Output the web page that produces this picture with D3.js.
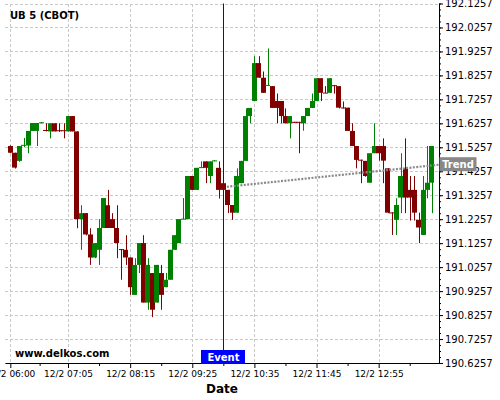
<!DOCTYPE html>
<html>
<head>
<meta charset="utf-8">
<script src="https://cdnjs.cloudflare.com/ajax/libs/d3/7.8.5/d3.min.js"></script>
<style>
body { margin: 0; background: #fff; }
text { font-family: "DejaVu Sans", sans-serif; }
</style>
</head>
<body>
<div id="chart"></div>
<script>
var width = 500;
var height = 400;
var plotLeft = 5, plotRight = 439, plotTop = 3.5, plotBottom = 363;
var upColor = '#008000';
var downColor = '#800000';
var gridColor = '#c8c8c8';

// 5 minute bars, 12/2
var times = [
  '06:00','06:05','06:10','06:15','06:20','06:25','06:30','06:35','06:40','06:45','06:50','06:55',
  '07:00','07:05','07:10','07:15','07:20','07:25','07:30','07:35','07:40','07:45','07:50','07:55',
  '08:00','08:05','08:10','08:15','08:20','08:25','08:30','08:35','08:40','08:45','08:50','08:55',
  '09:00','09:05','09:10','09:15','09:20','09:25','09:30','09:35','09:40','09:45','09:50','09:55',
  '10:00','10:05','10:10','10:15','10:20','10:25','10:30','10:35','10:40','10:45','10:50','10:55',
  '11:00','11:05','11:10','11:15','11:20','11:25','11:30','11:35','11:40','11:45','11:50','11:55',
  '12:00','12:05','12:10','12:15','12:20','12:25','12:30','12:35','12:40','12:45','12:50','12:55',
  '13:00','13:05','13:10','13:15','13:20','13:25','13:30','13:35','13:40','13:45','13:50','13:55'
];
var opens = [
  191.531,191.503,191.469,191.534,191.533,191.594,191.594,191.628,191.598,191.592,191.626,191.597,
  191.597,191.592,191.656,191.592,191.226,191.251,191.162,191.066,191.098,191.189,191.284,191.226,
  191.189,191.101,191.098,191.066,190.910,191.035,191.126,190.878,191.001,190.878,191.001,190.942,
  190.973,191.098,191.126,191.226,191.226,191.406,191.348,191.442,191.467,191.406,191.470,191.440,
  191.376,191.348,191.285,191.253,191.376,191.469,191.656,191.719,191.877,191.816,191.784,191.781,
  191.719,191.719,191.656,191.626,191.632,191.632,191.626,191.656,191.690,191.719,191.814,191.754,
  191.753,191.785,191.781,191.692,191.691,191.594,191.531,191.474,191.469,191.378,191.501,191.531,
  191.531,191.438,191.254,191.223,191.316,191.438,191.348,191.348,191.223,191.160,191.348,191.378
];
var highs = [
  191.534,191.503,191.531,191.565,191.594,191.627,191.627,191.631,191.626,191.626,191.626,191.626,
  191.626,191.656,191.656,191.592,191.284,191.251,191.188,191.126,191.226,191.314,191.348,191.251,
  191.284,191.101,191.159,191.066,191.063,191.126,191.159,191.063,191.001,191.035,191.035,191.001,
  191.098,191.159,191.226,191.314,191.406,191.406,191.440,191.467,191.467,191.467,191.472,191.467,
  191.376,191.348,191.285,191.438,191.469,191.688,191.690,191.906,191.906,191.842,191.938,191.781,
  191.750,191.719,191.688,191.656,191.632,191.632,191.656,191.690,191.750,191.814,191.814,191.781,
  191.814,191.785,191.781,191.717,191.691,191.626,191.531,191.474,191.469,191.501,191.626,191.531,
  191.563,191.438,191.254,191.313,191.501,191.563,191.406,191.406,191.253,191.406,191.531,191.531
];
var lows = [
  191.501,191.437,191.465,191.526,191.501,191.594,191.531,191.627,191.592,191.563,191.592,191.590,
  191.563,191.592,191.592,191.188,191.098,191.158,191.035,191.063,191.035,191.189,191.189,191.189,
  191.063,190.973,191.035,190.910,190.910,191.001,190.878,190.848,190.817,190.878,190.848,190.942,
  190.973,191.098,191.126,191.226,191.226,191.348,191.348,191.440,191.376,191.376,191.469,191.312,
  191.348,191.251,191.223,191.253,191.376,191.469,191.626,191.719,191.816,191.753,191.784,191.690,
  191.626,191.626,191.626,191.563,191.630,191.501,191.595,191.656,191.690,191.719,191.719,191.753,
  191.753,191.750,191.688,191.688,191.594,191.531,191.438,191.376,191.403,191.378,191.501,191.470,
  191.376,191.251,191.160,191.160,191.251,191.251,191.220,191.220,191.126,191.160,191.313,191.251
];
var closes = [
  191.503,191.441,191.531,191.536,191.594,191.627,191.627,191.630,191.596,191.626,191.592,191.596,
  191.596,191.656,191.592,191.226,191.251,191.162,191.066,191.126,191.189,191.314,191.189,191.189,
  191.126,191.100,191.066,190.942,191.035,191.126,190.878,191.035,190.848,191.035,190.910,190.973,
  191.098,191.159,191.226,191.228,191.406,191.348,191.440,191.443,191.440,191.467,191.471,191.348,
  191.348,191.285,191.253,191.406,191.469,191.656,191.690,191.877,191.816,191.753,191.786,191.690,
  191.690,191.656,191.626,191.656,191.631,191.631,191.656,191.690,191.719,191.814,191.753,191.753,
  191.814,191.784,191.691,191.691,191.594,191.531,191.473,191.473,191.406,191.501,191.531,191.501,
  191.470,191.253,191.253,191.285,191.406,191.316,191.316,191.253,191.191,191.348,191.378,191.531
];

var xDomain = ['05:54', '14:03'];
var xTickTimes = ['06:00', '07:05', '08:15', '09:25', '10:35', '11:45', '12:55'];
var xTickLabels = ['12/2 06:00', '12/2 07:05', '12/2 08:15', '12/2 09:25', '12/2 10:35', '12/2 11:45', '12/2 12:55'];
var xMinorTimes = ['06:33', '07:40', '08:50', '10:00', '11:10', '12:20', '13:30'];
var yDomain = [190.6257, 192.1257];
var yTickLabels = ['192.1257', '192.0257', '191.9257', '191.8257', '191.7257', '191.6257', '191.5257', '191.4257',
  '191.3257', '191.2257', '191.1257', '191.0257', '190.9257', '190.8257', '190.7257', '190.6257'];
var eventTime = '10:00';
var trendTimes = ['10:04', '14:03'];
var trendValues = [191.361, 191.453];

var parseTime = d3.timeParse('%H:%M');

var svg = d3.select('#chart').append('svg')
      .attr('width', width)
      .attr('height', height)
      .style('display', 'block');

var xScale = d3.scaleTime()
      .domain(xDomain.map(parseTime))
      .range([plotLeft, plotRight]);

var yScale = d3.scaleLinear()
      .domain(yDomain)
      .range([plotBottom, plotTop]);

var yTickValues = yTickLabels.map(Number);
var yMinorValues = d3.range(0, 61).map(i => yDomain[0] + i * 0.025);

// dashed grid
var grid = svg.append('g')
      .attr('stroke', gridColor)
      .attr('stroke-dasharray', '3,2')
      .attr('shape-rendering', 'crispEdges');
grid.selectAll('.hgrid')
      .data(yTickValues)
      .enter().append('line')
      .attr('class', 'hgrid')
      .attr('x1', plotLeft)
      .attr('x2', plotRight)
      .attr('y1', d => Math.round(yScale(d)) + 0.5)
      .attr('y2', d => Math.round(yScale(d)) + 0.5);
grid.selectAll('.vgrid')
      .data(xTickTimes.map(parseTime))
      .enter().append('line')
      .attr('class', 'vgrid')
      .attr('x1', d => Math.round(xScale(d)) + 0.5)
      .attr('x2', d => Math.round(xScale(d)) + 0.5)
      .attr('y1', plotTop)
      .attr('y2', plotBottom);

// event marker
var eventX = Math.round(xScale(parseTime(eventTime))) + 0.5;
svg.append('line')
      .attr('x1', eventX)
      .attr('x2', eventX)
      .attr('y1', plotTop)
      .attr('y2', 350)
      .attr('stroke', '#0000ff')
      .attr('stroke-width', 1);

// candles
var candles = times.map((t, i) => ({
      time: parseTime(t), open: opens[i], high: highs[i], low: lows[i], close: closes[i]
}));

var bars = svg.append('g')
      .selectAll('g')
      .data(candles)
      .enter().append('g')
      .attr('fill', d => d.close >= d.open ? upColor : downColor);

bars.append('rect')
      .attr('x', d => Math.round(xScale(d.time)))
      .attr('y', d => yScale(d.high))
      .attr('width', 1)
      .attr('height', d => Math.max(1, yScale(d.low) - yScale(d.high)));

bars.append('rect')
      .attr('x', d => Math.round(xScale(d.time) - 2.5))
      .attr('y', d => yScale(Math.max(d.open, d.close)))
      .attr('width', 5)
      .attr('height', d => Math.max(1, yScale(Math.min(d.open, d.close)) - yScale(Math.max(d.open, d.close))));

// trend line
svg.append('line')
      .attr('x1', xScale(parseTime(trendTimes[0])))
      .attr('y1', yScale(trendValues[0]))
      .attr('x2', xScale(parseTime(trendTimes[1])))
      .attr('y2', yScale(trendValues[1]))
      .attr('stroke', '#8a8a8a')
      .attr('stroke-width', 2.2)
      .attr('stroke-dasharray', '2,1.4');

// axes
var xAxis = d3.axisBottom(xScale)
      .tickValues(xTickTimes.map(parseTime))
      .tickFormat((d, i) => xTickLabels[i])
      .tickSize(5)
      .tickSizeOuter(0)
      .tickPadding(3);
var xMinor = d3.axisBottom(xScale)
      .tickValues(xMinorTimes.map(parseTime))
      .tickFormat('')
      .tickSize(3)
      .tickSizeOuter(0);

var xAxisGroup = svg.append('g')
      .attr('transform', 'translate(0,' + plotBottom + ')')
      .call(xAxis)
      .attr('font-family', 'DejaVu Sans')
      .attr('font-size', 9);
svg.append('g')
      .attr('transform', 'translate(0,' + plotBottom + ')')
      .call(xMinor)
      .select('.domain').remove();

var yAxis = d3.axisRight(yScale)
      .tickValues(yTickValues)
      .tickFormat((d, i) => yTickLabels[i])
      .tickSize(4)
      .tickSizeOuter(0)
      .tickPadding(2);
var yMinor = d3.axisRight(yScale)
      .tickValues(yMinorValues)
      .tickFormat('')
      .tickSize(2)
      .tickSizeOuter(0);

svg.append('g')
      .attr('transform', 'translate(' + plotRight + ',0)')
      .call(yMinor)
      .select('.domain').remove();
var yAxisGroup = svg.append('g')
      .attr('transform', 'translate(' + plotRight + ',0)')
      .call(yAxis)
      .attr('font-family', 'DejaVu Sans')
      .attr('font-size', 10);

// labels
svg.append('text')
      .attr('x', 10)
      .attr('y', 19)
      .style('font-weight', 'bold')
      .style('font-size', '10px')
      .text('UB 5 (CBOT)');

svg.append('text')
      .attr('x', 15)
      .attr('y', 357)
      .style('font-weight', 'bold')
      .style('font-size', '10px')
      .text('www.delkos.com');

svg.append('rect')
      .attr('x', eventX - 22.5)
      .attr('y', 350)
      .attr('width', 44)
      .attr('height', 14)
      .attr('fill', '#0000ff');
svg.append('text')
      .attr('x', eventX)
      .attr('y', 361)
      .attr('text-anchor', 'middle')
      .attr('fill', '#fff')
      .style('font-weight', 'bold')
      .style('font-size', '10px')
      .text('Event');

var trendEndY = yScale(trendValues[1]);
svg.append('rect')
      .attr('x', plotRight + 0.5)
      .attr('y', trendEndY - 7.5)
      .attr('width', 37)
      .attr('height', 14)
      .attr('fill', '#888888');
svg.append('text')
      .attr('x', plotRight + 19)
      .attr('y', trendEndY + 3.5)
      .attr('text-anchor', 'middle')
      .attr('fill', '#fff')
      .style('font-weight', 'bold')
      .style('font-size', '10px')
      .text('Trend');

svg.append('text')
      .attr('x', 222)
      .attr('y', 393)
      .attr('text-anchor', 'middle')
      .style('font-weight', 'bold')
      .style('font-size', '12px')
      .text('Date');
</script>
</body>
</html>
